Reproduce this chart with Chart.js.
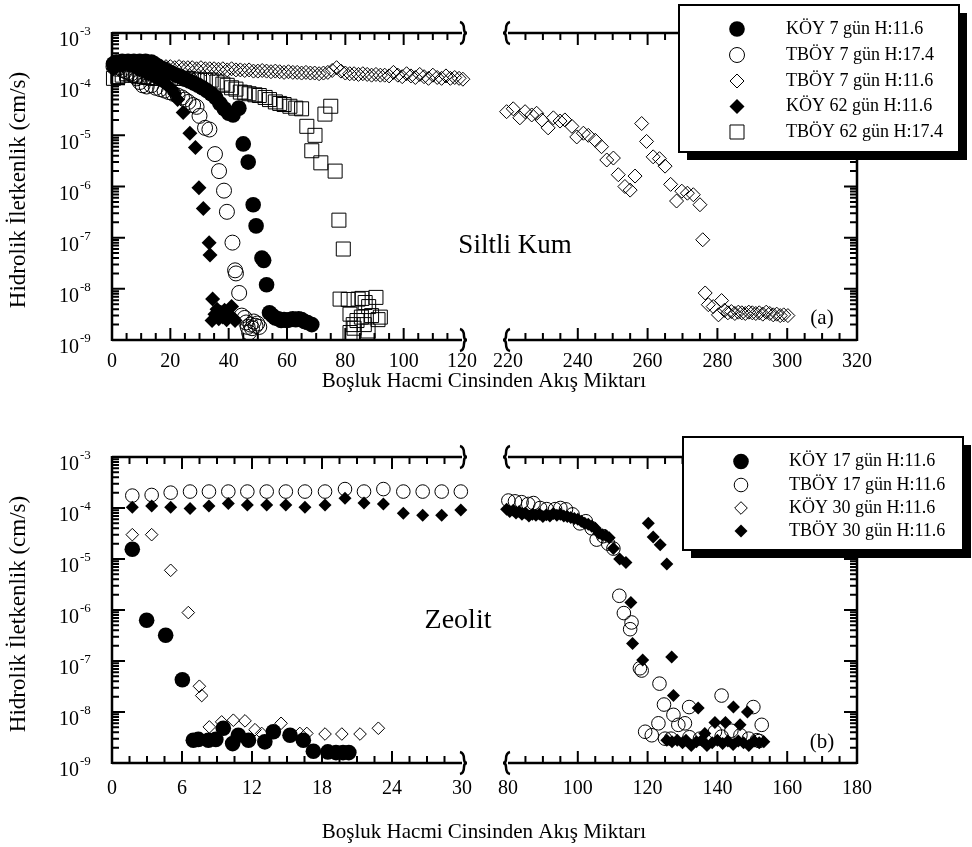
<!DOCTYPE html>
<html>
<head>
<meta charset="utf-8">
<script src="https://cdn.jsdelivr.net/npm/chart.js@4.4.0/dist/chart.umd.min.js"></script>
<style>
  body { margin: 0; background: #fff; }
  #wrap { position: relative; width: 972px; height: 847px; overflow: hidden; background: #fff; }
  canvas { position: absolute; left: 0; }
</style>
</head>
<body>
<div id="wrap">
  <canvas id="aL" width="972" height="424" style="top:0"></canvas>
  <canvas id="aR" width="972" height="424" style="top:0"></canvas>
  <canvas id="bL" width="972" height="423" style="top:424px"></canvas>
  <canvas id="bR" width="972" height="423" style="top:424px"></canvas>
</div>
<script>
// Hidrolik iletkenlik - bosluk hacmi cinsinden akis miktari (kirik eksenli iki panel)

// ---- tick labels ----
const yExponents = [-3, -4, -5, -6, -7, -8, -9];
const aLeftTicks = [0, 20, 40, 60, 80, 100, 120];
const aRightTicks = [220, 240, 260, 280, 300, 320];
const bLeftTicks = [0, 6, 12, 18, 24, 30];
const bRightTicks = [80, 100, 120, 140, 160, 180];

const aLabels = ['KÖY 7 gün H:11.6', 'TBÖY 7 gün H:17.4', 'TBÖY 7 gün H:11.6', 'KÖY 62 gün H:11.6', 'TBÖY 62 gün H:17.4'];
const bLabels = ['KÖY 17 gün H:11.6', 'TBÖY 17 gün H:11.6', 'KÖY 30 gün H:11.6', 'TBÖY 30 gün H:11.6'];

// ---- panel (a) Siltli Kum : [x, K] ----
const aKoy7 = [[0.5,2.5e-4],[1.5,2.7e-4],[2.5,2.6e-4],[3.5,2.8e-4],[4.5,2.6e-4],[5.5,2.8e-4],[6.5,2.7e-4],[7.5,2.8e-4],
  [8.5,2.7e-4],[9.5,2.8e-4],[10.5,2.7e-4],[11.5,2.8e-4],[12.5,2.6e-4],[13.5,2.7e-4],[14.5,2.5e-4],[16,2.2e-4],[17.5,2.0e-4],
  [19,1.8e-4],[20.5,1.65e-4],[22,1.5e-4],[23.5,1.4e-4],[25,1.25e-4],[26.5,1.15e-4],[28,1.05e-4],[29.5,9.5e-5],[31,8.5e-5],
  [32.5,7.5e-5],[34,6.5e-5],[35.5,5.5e-5],[37,4.2e-5],[38.5,3.3e-5],[40,2.7e-5],[41.5,2.5e-5],[43.5,3.4e-5],[45,6.8e-6],
  [46.7,3.0e-6],[48.4,4.4e-7],[49.4,1.7e-7],[51.4,4.0e-8],[52,3.6e-8],[53,1.2e-8],[54,3.4e-9],[55,3.0e-9],[56,2.7e-9],
  [57,2.6e-9],[58,2.4e-9],[59,2.5e-9],[60,2.4e-9],[61,2.5e-9],[62,2.6e-9],[63,2.5e-9],[64,2.6e-9],[65,2.5e-9],[66,2.3e-9],
  [67,2.2e-9],[68.5,2.0e-9]];
const aTboy7H174 = [[0.5,2.2e-4],[1.5,2.0e-4],[2.5,2.1e-4],[3.5,1.9e-4],[4.5,1.8e-4],[5.5,1.7e-4],[6.5,1.6e-4],[7.5,1.5e-4],
  [8.5,1.3e-4],[9.5,1.1e-4],[10.5,9.5e-5],[11.9,9.0e-5],[13.5,9.5e-5],[15,8.5e-5],[16.5,8.0e-5],[18,7.5e-5],[19.5,7.0e-5],
  [21,6.5e-5],[22.5,6.0e-5],[24,5.5e-5],[25,5.0e-5],[26.2,4.5e-5],[27.8,3.9e-5],[29,3.6e-5],[30,2.4e-5],[31.9,1.4e-5],
  [33.4,1.3e-5],[35.3,4.3e-6],[36.7,2.0e-6],[38.4,8.3e-7],[39.4,3.2e-7],[41.3,8.0e-8],[42.2,2.3e-8],[42.5,2.0e-8],
  [43.6,8.3e-9],[44.5,3.0e-9],[45.5,2.7e-9],[46,2.2e-9],[46.5,1.8e-9],[47,1.4e-9],[47.5,2.0e-9],[48,1.7e-9],[48.6,2.3e-9],
  [49.2,1.9e-9],[49.8,2.1e-9],[50.5,1.8e-9]];
const aTboy7H116 = [[0.5,2.5e-4],[2,2.4e-4],[3.5,2.5e-4],[5,2.4e-4],[6.5,2.4e-4],[8,2.3e-4],[9.5,2.4e-4],[11,2.3e-4],
  [12.5,2.3e-4],[14,2.2e-4],[15.5,2.3e-4],[17,2.2e-4],[18.5,2.2e-4],[20,2.2e-4],[21.5,2.1e-4],[23,2.2e-4],[24.5,2.1e-4],
  [26,2.1e-4],[27.5,2.1e-4],[29,2.0e-4],[30.5,2.1e-4],[32,2.0e-4],[33.5,2.0e-4],[35,2.0e-4],[36.5,1.95e-4],[38,2.0e-4],
  [39.5,1.9e-4],[41,2.0e-4],[42.5,1.9e-4],[44,1.9e-4],[45.5,1.85e-4],[47,1.9e-4],[48.5,1.8e-4],[50,1.8e-4],[51.5,1.85e-4],
  [53,1.8e-4],[54.5,1.75e-4],[56,1.8e-4],[57.5,1.75e-4],[59,1.7e-4],[60.5,1.75e-4],[62,1.7e-4],[63.5,1.7e-4],[65,1.65e-4],
  [66.5,1.7e-4],[68,1.65e-4],[69.5,1.65e-4],[71,1.6e-4],[72.5,1.65e-4],[74,1.7e-4],[75.5,1.85e-4],[77,2.1e-4],[78.5,1.8e-4],
  [80,1.65e-4],[81.5,1.6e-4],[83,1.6e-4],[84.5,1.55e-4],[86,1.6e-4],[87.5,1.55e-4],[89,1.5e-4],[90.5,1.55e-4],[92,1.5e-4],
  [93.5,1.5e-4],[95,1.45e-4],[96.5,1.7e-4],[98,1.5e-4],[99.5,1.4e-4],[101,1.6e-4],[102.5,1.45e-4],[104,1.35e-4],
  [105.5,1.55e-4],[107,1.4e-4],[108.5,1.3e-4],[110,1.5e-4],[111.5,1.35e-4],[113,1.3e-4],[114.5,1.45e-4],[116,1.3e-4],
  [117.5,1.35e-4],[119,1.3e-4],[120.3,1.25e-4],
  [219.6,2.9e-5],[221.5,3.3e-5],[223.4,2.2e-5],[224.9,2.9e-5],[226.8,2.5e-5],[228.2,2.7e-5],[229.7,2.0e-5],[231.5,1.4e-5],
  [233,2.2e-5],[234.9,1.9e-5],[236.3,2.0e-5],[238.3,1.5e-5],[239.7,9.3e-6],[241.6,1.1e-5],[243,1.0e-5],[245,8.0e-6],
  [246.8,6.0e-6],[248.3,3.3e-6],[250.2,3.6e-6],[251.6,1.7e-6],[253.5,1.0e-6],[255,8.5e-7],[256.4,1.6e-6],[258.3,1.7e-5],
  [259.7,7.6e-6],[261.6,3.8e-6],[263.4,3.5e-6],[265,2.5e-6],[266.6,1.1e-6],[268.3,5.2e-7],[269.8,8.1e-7],[271.4,7.4e-7],
  [273.1,6.9e-7],[275,4.4e-7],[275.8,9.1e-8],[276.5,8.3e-9],[277.4,4.9e-9],[278.8,4.5e-9],[280.3,3.1e-9],[281.2,5.9e-9],
  [282,3.8e-9],[283,3.4e-9],[284,3.6e-9],[285,3.3e-9],[286,3.5e-9],[287,3.4e-9],[288,3.3e-9],[289,3.5e-9],[290,3.4e-9],
  [291,3.3e-9],[292,3.4e-9],[293,3.2e-9],[294,3.5e-9],[295,3.3e-9],[296,3.1e-9],[297,3.2e-9],[298,3.0e-9],[299,3.1e-9],
  [300.2,3.0e-9]];
const aKoy62 = [[0.5,2.0e-4],[1.5,2.2e-4],[2.5,2.4e-4],[3.5,2.3e-4],[4.5,2.5e-4],[5.5,2.4e-4],[6.5,2.3e-4],[7.5,2.2e-4],
  [8.5,2.0e-4],[9.5,1.9e-4],[10.5,1.8e-4],[11.5,1.7e-4],[12.5,1.6e-4],[13.5,1.5e-4],[14.5,1.4e-4],[15.5,1.3e-4],
  [16.5,1.2e-4],[17.5,1.1e-4],[18.5,1.0e-4],[19.5,9.0e-5],[20.5,8.0e-5],[21.5,6.5e-5],[22.5,5.0e-5],[24.4,2.8e-5],
  [26.7,1.1e-5],[28.6,5.8e-6],[29.8,9.5e-7],[31.3,3.7e-7],[33.3,8.0e-8],[33.6,4.6e-8],[34.5,6.3e-9],[34.3,2.4e-9],
  [35.3,3.2e-9],[36,4.0e-9],[36.6,2.6e-9],[37.3,3.5e-9],[38,2.8e-9],[38.6,3.8e-9],[39.3,2.5e-9],[40,3.0e-9],[41,4.5e-9],
  [41.5,2.7e-9],[42.2,2.4e-9]];
const aTboy62 = [[0.5,1.3e-4],[2,1.4e-4],[3.5,1.5e-4],[5,1.6e-4],[6.5,1.5e-4],[8,1.5e-4],[9.5,1.4e-4],[11,1.4e-4],
  [12.5,1.35e-4],[14,1.3e-4],[15.5,1.3e-4],[17,1.3e-4],[18.5,1.3e-4],[20,1.3e-4],[22,1.3e-4],[24,1.3e-4],[26,1.3e-4],
  [28,1.25e-4],[30,1.2e-4],[32,1.2e-4],[34,1.2e-4],[36,1.1e-4],[38,1.0e-4],[39.5,9.5e-5],[41,8.5e-5],[42.5,8.0e-5],
  [44,7.0e-5],[45.5,6.8e-5],[47,6.5e-5],[49,6.2e-5],[50.5,6.0e-5],[52.5,5.5e-5],[54,5.0e-5],[56,4.5e-5],[57.5,4.2e-5],
  [59,4.0e-5],[61,3.7e-5],[63,3.4e-5],[65,3.3e-5],[66.8,1.5e-5],[69.6,1.0e-5],[68.5,5.0e-6],[71.6,2.9e-6],[76.5,2.0e-6],
  [73,2.6e-5],[75,3.7e-5],[77.8,2.2e-7],[79.3,6.0e-8],[78.2,6.3e-9],[81,6.2e-9],[84.4,6.3e-9],[85.7,6.5e-9],[86.8,5.4e-9],
  [88,4.5e-9],[90.5,6.8e-9],[81.6,3.2e-9],[82.7,2.0e-9],[81.6,1.4e-9],[84,2.4e-9],[85.5,2.8e-9],[86.5,2.0e-9],
  [87.8,1.5e-9],[89,3.0e-9],[91.2,2.5e-9],[92,2.8e-9],[83,1.7e-9]];

// ---- panel (b) Zeolit : [x, K] ----
const bKoy17 = [[1.74,1.55e-5],[2.97,6.3e-7],[4.6,3.2e-7],[6.03,4.3e-8],[6.97,2.8e-9],[7.4,2.9e-9],[8.26,2.8e-9],
  [8.9,2.9e-9],[9.54,4.8e-9],[10.34,2.4e-9],[10.83,3.5e-9],[11.7,2.8e-9],[13.1,2.6e-9],[13.83,4.1e-9],[15.26,3.5e-9],
  [16.4,2.8e-9],[17.26,1.7e-9],[18.5,1.65e-9],[19.2,1.6e-9],[19.8,1.6e-9],[20.3,1.6e-9]];
const bTboy17 = [[1.74,1.75e-4],[3.40,1.8e-4],[5.03,2.0e-4],[6.69,2.1e-4],[8.31,2.1e-4],[9.97,2.1e-4],[11.6,2.1e-4],
  [13.26,2.1e-4],[14.9,2.1e-4],[16.54,2.1e-4],[18.26,2.1e-4],[19.97,2.35e-4],[21.6,2.1e-4],[23.26,2.35e-4],[24.97,2.1e-4],
  [26.63,2.1e-4],[28.26,2.1e-4],[29.9,2.1e-4],
  [80.1,1.4e-4],[82,1.35e-4],[83.9,1.3e-4],[85.8,1.2e-4],[87.3,1.25e-4],[89.2,1.0e-4],[91.1,9.5e-5],[93.5,9.5e-5],
  [95,1.0e-4],[96.6,9.4e-5],[98.5,7.5e-5],[100.6,5.0e-5],[102.3,5.5e-5],[104,4.0e-5],[105.4,2.4e-5],[107.3,2.8e-5],
  [108.7,2.0e-5],[110.2,1.6e-5],[111.9,1.9e-6],[113.2,8.7e-7],[115.4,5.7e-7],[115,4.2e-7],[117.8,7.2e-8],[118.3,6.5e-8],
  [123.4,3.6e-8],[124.7,1.4e-8],[127.4,8.8e-9],[131.9,1.25e-8],[141.2,2.1e-8],[150.3,1.25e-8],[152.7,5.6e-9],
  [119.3,4.1e-9],[121.2,3.5e-9],[123.1,6.0e-9],[125,3.0e-9],[126.7,3.0e-9],[128.8,5.6e-9],[130.7,6.0e-9],[132,3.2e-9],
  [135,3.0e-9],[139.3,4.1e-9],[141.2,3.3e-9],[144,4.3e-9],[146.6,3.5e-9],[149,3.0e-9],[151.3,2.8e-9],[152,2.7e-9]];
const bKoy30 = [[1.74,3.0e-5],[3.40,3.0e-5],[5.03,6.0e-6],[6.54,8.9e-7],[7.49,3.2e-8],[7.69,2.1e-8],[8.34,5.1e-9],
  [9.4,6.4e-9],[10.4,6.9e-9],[11.4,6.7e-9],[12.26,4.5e-9],[12.83,3.8e-9],[14.49,6.0e-9],[16.1,3.8e-9],[16.7,3.8e-9],
  [18.26,3.7e-9],[19.7,3.7e-9],[21.26,3.7e-9],[22.83,4.8e-9]];
const bTboy30 = [[1.74,1.03e-4],[3.40,1.1e-4],[5.03,1.03e-4],[6.69,9.8e-5],[8.31,1.1e-4],[9.97,1.23e-4],[11.6,1.15e-4],
  [13.26,1.15e-4],[14.9,1.15e-4],[16.54,1.03e-4],[18.26,1.15e-4],[19.97,1.55e-4],[21.6,1.26e-4],[23.26,1.2e-4],
  [24.97,7.9e-5],[26.63,7.2e-5],[28.26,7.2e-5],[29.9,9.1e-5],
  [79.6,9.5e-5],[80.5,8.5e-5],[81.5,9.0e-5],[82.3,8.0e-5],[83.2,8.5e-5],[84,7.5e-5],[85,8.0e-5],[86,7.0e-5],[87,7.5e-5],
  [88,7.2e-5],[89,7.6e-5],[90,6.8e-5],[91,7.4e-5],[92,7.0e-5],[93,7.8e-5],[94,7.2e-5],[95,7.5e-5],[96,7.0e-5],[97,6.8e-5],
  [98,6.5e-5],[99,6.2e-5],[100,6.0e-5],[101,5.5e-5],[102,5.0e-5],[103,4.8e-5],[104,4.4e-5],[105,4.0e-5],[106,3.2e-5],
  [107,3.0e-5],[108,2.9e-5],[109,2.6e-5],[110.2,1.6e-5],[112,1.0e-5],[113.8,8.5e-6],[115.2,1.4e-6],[115.7,2.2e-7],
  [118.6,1.05e-7],[120.2,5.0e-5],[121.6,2.7e-5],[123.6,1.9e-5],[125.5,8.0e-6],[126.9,1.2e-7],[127.4,2.1e-8],[134.5,1.2e-8],
  [144.6,1.25e-8],[148.6,1.0e-8],[139.3,6.2e-9],[142.3,6.2e-9],[146.5,5.6e-9],[136.4,3.8e-9],[125.5,2.8e-9],[127,2.6e-9],
  [128.5,2.8e-9],[130,2.5e-9],[131,2.8e-9],[132.5,2.2e-9],[134,2.6e-9],[135.5,2.8e-9],[137,2.2e-9],[138.5,2.5e-9],
  [140,2.8e-9],[141.5,2.4e-9],[143,2.7e-9],[144.5,2.3e-9],[146,2.7e-9],[147.5,2.5e-9],[149,2.2e-9],[150.5,2.7e-9],
  [152,2.5e-9],[153.3,2.6e-9]];

const FONT = '"Liberation Serif", "Times New Roman", serif';

const aSeries = [
  { data: aKoy7, style: 'circle', r: 7.8, filled: true },
  { data: aTboy7H174, style: 'circle', r: 7.5, filled: false },
  { data: aTboy7H116, style: 'rectRot', r: 7, filled: false },
  { data: aKoy62, style: 'rectRot', r: 7.5, filled: true },
  { data: aTboy62, style: 'rect', r: 9.9, filled: false }
];
const bSeries = [
  { data: bKoy17, style: 'circle', r: 7.8, filled: true },
  { data: bTboy17, style: 'circle', r: 6.8, filled: false },
  { data: bKoy30, style: 'rectRot', r: 6.3, filled: false },
  { data: bTboy30, style: 'rectRot', r: 6.5, filled: true }
];

function drawMarker(ctx, style, x, y, r, filled) {
  ctx.beginPath();
  if (style === 'circle') {
    ctx.arc(x, y, r, 0, Math.PI * 2);
  } else if (style === 'rectRot') {
    ctx.moveTo(x - r, y); ctx.lineTo(x, y - r); ctx.lineTo(x + r, y); ctx.lineTo(x, y + r); ctx.closePath();
  } else {
    const h = r * Math.SQRT1_2;
    ctx.rect(x - h, y - h, 2 * h, 2 * h);
  }
  if (filled) { ctx.fillStyle = '#000'; ctx.fill(); }
  else { ctx.lineWidth = 1; ctx.strokeStyle = '#000'; ctx.stroke(); }
}

// small curly break mark on the axis ends
function breakMark(ctx, x, yc, dir) {
  ctx.save();
  ctx.lineWidth = 2.5;
  ctx.strokeStyle = '#000';
  ctx.beginPath();
  ctx.moveTo(x - 2 * dir, yc - 11);
  ctx.quadraticCurveTo(x + 2 * dir, yc - 10, x + 2 * dir, yc - 4);
  ctx.quadraticCurveTo(x + 2 * dir, yc, x + 5 * dir, yc);
  ctx.moveTo(x + 5 * dir, yc);
  ctx.quadraticCurveTo(x + 2 * dir, yc, x + 2 * dir, yc + 4);
  ctx.quadraticCurveTo(x + 2 * dir, yc + 10, x - 2 * dir, yc + 11);
  ctx.stroke();
  ctx.restore();
}

function framePlugin(cfg) {
  return {
    id: 'frame',
    beforeDatasetsDraw(chart) {
      const { ctx, chartArea: a, scales: { x, y } } = chart;
      ctx.save();
      ctx.strokeStyle = '#000';
      ctx.lineWidth = 2.5;
      ctx.beginPath();
      ctx.moveTo(a.left, a.top); ctx.lineTo(a.right, a.top);
      ctx.moveTo(a.left, a.bottom); ctx.lineTo(a.right, a.bottom);
      if (cfg.side === 'left') { ctx.moveTo(a.left, a.top - 1); ctx.lineTo(a.left, a.bottom + 1); }
      else { ctx.moveTo(a.right, a.top - 1); ctx.lineTo(a.right, a.bottom + 1); }
      ctx.stroke();

      // x ticks, inside, top and bottom
      ctx.lineWidth = 2;
      ctx.beginPath();
      for (let v = x.min; v <= x.max + 1e-6; v += cfg.minor) {
        if (cfg.side === 'left' && v > x.max - 1e-6) continue;
        if (cfg.side === 'right' && v < x.min + 1e-6) continue;
        const q = v / cfg.major;
        const len = Math.abs(q - Math.round(q)) < 1e-6 ? 12 : 7;
        const px = x.getPixelForValue(v);
        ctx.moveTo(px, a.bottom); ctx.lineTo(px, a.bottom - len);
        ctx.moveTo(px, a.top); ctx.lineTo(px, a.top + len);
      }
      // y ticks (log), inside
      const yx = cfg.side === 'left' ? a.left : a.right;
      const sgn = cfg.side === 'left' ? 1 : -1;
      for (let e = -9; e <= -3; e++) {
        for (let m = 1; m <= 9; m++) {
          if (e === -3 && m > 1) break;
          const py = y.getPixelForValue(m * Math.pow(10, e));
          const len = m === 1 ? 13 : 7;
          ctx.moveTo(yx, py); ctx.lineTo(yx + sgn * len, py);
        }
      }
      ctx.stroke();

      // break marks
      if (cfg.side === 'left') {
        breakMark(ctx, a.right, a.top, 1);
        breakMark(ctx, a.right, a.bottom, 1);
      } else {
        breakMark(ctx, a.left, a.top, -1);
        breakMark(ctx, a.left, a.bottom, -1);
      }

      // x tick labels
      ctx.fillStyle = '#000';
      ctx.font = '20px ' + FONT;
      ctx.textAlign = 'center';
      ctx.textBaseline = 'middle';
      cfg.ticks.forEach(t => {
        ctx.fillText(String(t), x.getPixelForValue(t), cfg.tickY);
      });

      if (cfg.side === 'left') {
        // y tick labels 10^n
        yExponents.forEach(ex => {
          const py = y.getPixelForValue(Math.pow(10, ex));
          ctx.font = '20px ' + FONT;
          ctx.textAlign = 'right';
          ctx.fillText('10', a.left - 33, py + 8);
          ctx.font = '13px ' + FONT;
          ctx.textAlign = 'left';
          ctx.fillText(String(ex), a.left - 32, py - 1);
        });
        // axis titles
        ctx.font = '21px ' + FONT;
        ctx.textAlign = 'center';
        ctx.fillText('Boşluk Hacmi Cinsinden Akış Miktarı', 484, cfg.titleY);
        ctx.save();
        ctx.font = '23px ' + FONT;
        ctx.translate(19, 190);
        ctx.rotate(-Math.PI / 2);
        ctx.fillText('Hidrolik İletkenlik (cm/s)', 0, 0);
        ctx.restore();
      }
      ctx.restore();
    },
    afterDraw(chart) {
      if (cfg.side !== 'right') return;
      const ctx = chart.ctx;
      const L = cfg.legend;
      ctx.save();
      ctx.fillStyle = '#000';
      ctx.font = cfg.panelFont + 'px ' + FONT;
      ctx.textAlign = 'center';
      ctx.textBaseline = 'middle';
      ctx.fillText(cfg.panelText, cfg.panelX, cfg.panelY);
      ctx.font = '21px ' + FONT;
      ctx.fillText(cfg.tag, 822, 318);

      // legend box with solid shadow
      ctx.fillStyle = '#000';
      ctx.fillRect(L.x + L.sh, L.y + L.sh, L.w, L.h);
      ctx.fillStyle = '#fff';
      ctx.fillRect(L.x, L.y, L.w, L.h);
      ctx.lineWidth = 2;
      ctx.strokeStyle = '#000';
      ctx.strokeRect(L.x, L.y, L.w, L.h);
      cfg.series.forEach((s, i) => {
        const yy = L.rowY[i];
        drawMarker(ctx, s.style, L.mx, yy, s.r, s.filled);
        ctx.fillStyle = '#000';
        ctx.font = '18px ' + FONT;
        ctx.textAlign = 'left';
        ctx.fillText(cfg.labels[i], L.tx, yy);
      });
      ctx.restore();
    }
  };
}

function makeChart(id, cfg) {
  const datasets = cfg.series.map(s => ({
    data: s.data.filter(p => p[0] >= cfg.xmin - 1 && p[0] <= cfg.xmax + 1).map(p => ({ x: p[0], y: p[1] })),
    pointStyle: s.style,
    pointRadius: s.r,
    backgroundColor: s.filled ? '#000' : 'rgba(0,0,0,0)',
    borderColor: '#000',
    borderWidth: s.filled ? 0 : 1,
    showLine: false,
    clip: false
  }));
  return new Chart(document.getElementById(id), {
    type: 'scatter',
    data: { datasets },
    options: {
      responsive: false,
      animation: false,
      devicePixelRatio: 1,
      events: [],
      layout: { padding: cfg.pad },
      plugins: { legend: { display: false }, tooltip: { enabled: false } },
      scales: {
        x: { type: 'linear', min: cfg.xmin, max: cfg.xmax, display: false },
        y: { type: 'logarithmic', min: 1e-9, max: 1e-3, display: false }
      }
    },
    plugins: [framePlugin(cfg)]
  });
}

const padL = { left: 112, right: 510, top: 33, bottom: 84 };
const padR = { left: 508, right: 115, top: 33, bottom: 84 };

makeChart('aL', { series: aSeries, xmin: 0, xmax: 120, major: 20, minor: 5, side: 'left', pad: padL,
  ticks: aLeftTicks, tickY: 362, titleY: 381 });
makeChart('aR', { series: aSeries, xmin: 220, xmax: 320, major: 20, minor: 5, side: 'right', pad: padR,
  ticks: aRightTicks, tickY: 362, labels: aLabels, panelText: 'Siltli Kum', panelFont: 27, panelX: 515, panelY: 246,
  tag: '(a)', legend: { x: 679, y: 5, w: 280, h: 147, sh: 8, mx: 737, tx: 786, rowY: [29, 55, 81, 106.5, 132] } });
makeChart('bL', { series: bSeries, xmin: 0, xmax: 30, major: 6, minor: 1.5, side: 'left', pad: padL,
  ticks: bLeftTicks, tickY: 365, titleY: 408 });
makeChart('bR', { series: bSeries, xmin: 80, xmax: 180, major: 20, minor: 5, side: 'right', pad: padR,
  ticks: bRightTicks, tickY: 365, labels: bLabels, panelText: 'Zeolit', panelFont: 28, panelX: 458, panelY: 197,
  tag: '(b)', legend: { x: 683, y: 13, w: 280, h: 113, sh: 8, mx: 741, tx: 789, rowY: [37.5, 61, 84, 107] } });
</script>
</body>
</html>
